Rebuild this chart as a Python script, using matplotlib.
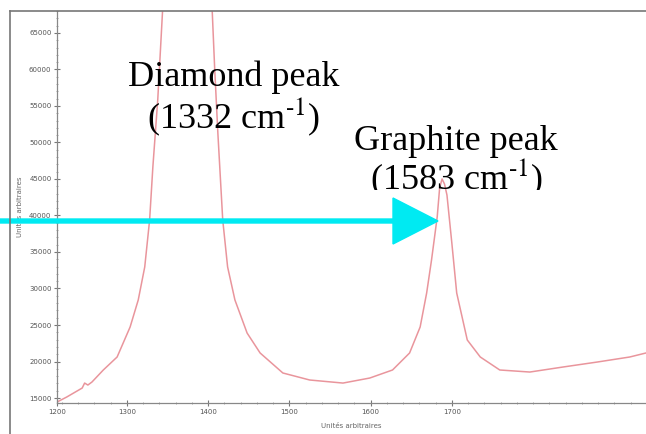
import matplotlib
matplotlib.use('Agg')
import matplotlib.pyplot as plt
from matplotlib.lines import Line2D
from matplotlib.patches import FancyArrow
from matplotlib.ticker import MultipleLocator, AutoMinorLocator
from matplotlib.transforms import Bbox

# spectre (unités arbitraires)
shift = [1214, 1226, 1245, 1248, 1252, 1257, 1271, 1288, 1304, 1314, 1322, 1328,
         1332, 1338, 1344, 1374, 1405, 1408, 1412, 1418, 1424, 1433, 1448, 1464,
         1492, 1525, 1566, 1599, 1627, 1648, 1661, 1669, 1675, 1682, 1685, 1688,
         1691, 1694, 1700, 1706, 1719, 1735, 1759, 1796, 1837, 1879, 1919, 1939]
intensity = [14450, 15140, 16370, 17050, 16780, 17190, 18840, 20620, 24730, 28430,
             32950, 39380, 46650, 55820, 68150, 95000, 68150, 60340, 51300, 39380,
             32950, 28430, 23900, 21170, 18430, 17470, 17050, 17740, 18840, 21170,
             24730, 29380, 33900, 39800, 43800, 45000, 44300, 42800, 36230, 29380,
             22950, 20620, 18840, 18560, 19250, 19930, 20620, 21170]

x_ticks = [1214, 1300, 1400, 1500, 1600, 1700]
x_labels = ['1200', '1300', '1400', '1500', '1600', '1700']
y_ticks = [15000, 20000, 25000, 30000, 35000, 40000, 45000, 50000, 55000, 60000, 65000]

W, H = 646, 434
fig = plt.figure(figsize=(W / 100, H / 100), dpi=100)
ax = fig.add_axes([57 / W, (H - 403) / H, (W - 57) / W, (403 - 11) / H])

ax.plot(shift, intensity, color='#e9959c', lw=1.1)
ax.set_xlim(1214, 1939)
ax.set_ylim(14320, 68000)

ax.set_xticks(x_ticks)
ax.set_xticklabels(x_labels)
ax.set_yticks(y_ticks)
ax.xaxis.set_minor_locator(MultipleLocator(20))
ax.yaxis.set_minor_locator(AutoMinorLocator(5))
ax.tick_params(which='major', direction='inout', length=4, width=0.8,
               colors='#777777', labelsize=5, labelcolor='#555555', pad=2)
ax.tick_params(which='minor', direction='inout', length=2, width=0.6, colors='#999999')

for s in ['top', 'right']:
    ax.spines[s].set_visible(False)
for s in ['left', 'bottom']:
    ax.spines[s].set_color('#888888')
    ax.spines[s].set_linewidth(0.9)

ax.set_xlabel('Unités arbitraires', fontsize=5, color='#666666', labelpad=6)
ax.set_ylabel('Unités arbitraires', fontsize=5, color='#666666', labelpad=4)

# cadre de la capture
fig.add_artist(Line2D([10 / W, 10 / W], [0, (H - 11) / H], color='#777777', lw=1.2))
fig.add_artist(Line2D([10 / W, 1], [(H - 11) / H, (H - 11) / H], color='#777777', lw=1.2))

serif = ['Liberation Serif', 'DejaVu Serif']
kw = dict(fontsize=26, family=serif, ha='center', va='baseline', math_fontfamily='stix')
fig.text(234 / W, (H - 86) / H, 'Diamond peak', **kw)
fig.text(234 / W, (H - 128) / H, '(1332 cm$^{\\text{-1}}$)', **kw)
fig.text(456 / W, (H - 150) / H, 'Graphite peak', **kw)
t = fig.text(457 / W, (H - 189) / H, '(1583 cm$^{\\text{-1}}$)', **kw)
t.set_clip_box(Bbox([[0, H - 190], [W, H - 150]]))
t.set_clip_on(True)

fig.add_artist(FancyArrow(0, (H - 221) / H, 438 / W, 0, width=4 / H,
                          head_width=46 / H, head_length=45 / W,
                          length_includes_head=True, color='#00eaf2',
                          transform=fig.transFigure))

fig.savefig('out.png', dpi=100)
